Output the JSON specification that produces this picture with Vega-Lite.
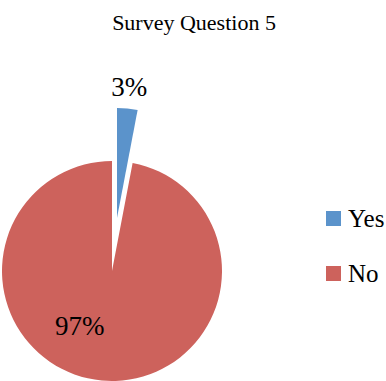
{
  "$schema": "https://vega.github.io/schema/vega-lite/v6.json",
  "width": 224,
  "height": 220,
  "autosize": "none",
  "padding": {"left": 0, "top": 161, "right": 162, "bottom": 0},
  "background": "white",
  "view": {"stroke": null},
  "title": {
    "text": "Survey Question 5",
    "font": "Liberation Serif",
    "fontSize": 22,
    "fontWeight": "normal",
    "color": "black",
    "anchor": "middle",
    "frame": "group",
    "baseline": "alphabetic",
    "dx": 82,
    "offset": 22
  },
  "data": {
    "values": [
      {"answer": "Yes", "share": 0.03},
      {"answer": "No", "share": 0.97}
    ]
  },
  "encoding": {
    "theta": {"field": "share", "type": "quantitative", "stack": true},
    "order": {"field": "answer", "sort": "descending"},
    "color": {
      "field": "answer",
      "type": "nominal",
      "scale": {"domain": ["Yes", "No"], "range": ["#5B93CB", "#CD625C"]},
      "legend": {
        "title": null,
        "orient": "none",
        "legendX": 321,
        "legendY": 45,
        "padding": 0,
        "symbolType": "square",
        "symbolSize": 225,
        "symbolStrokeWidth": 0,
        "symbolOpacity": 1,
        "labelFont": "Liberation Serif",
        "labelFontSize": 25,
        "labelColor": "black",
        "labelOffset": 2,
        "rowPadding": 29
      }
    }
  },
  "layer": [
    {
      "mark": {"type": "arc", "radius": 110},
      "encoding": {
        "opacity": {"condition": {"test": "datum.answer === 'No'", "value": 1}, "value": 0}
      }
    },
    {
      "mark": {"type": "arc", "radius": 110, "xOffset": 5, "yOffset": -53},
      "encoding": {
        "opacity": {"condition": {"test": "datum.answer === 'Yes'", "value": 1}, "value": 0}
      }
    },
    {
      "mark": {"type": "text", "radius": 184, "font": "Liberation Serif", "fontSize": 27, "color": "black"},
      "encoding": {
        "text": {"field": "share", "type": "quantitative", "format": ".0%"},
        "color": {"value": "black"},
        "opacity": {"condition": {"test": "datum.answer === 'Yes'", "value": 1}, "value": 0}
      }
    },
    {
      "mark": {"type": "text", "radius": 56, "dx": -27, "font": "Liberation Serif", "fontSize": 27, "color": "black"},
      "encoding": {
        "text": {"field": "share", "type": "quantitative", "format": ".0%"},
        "color": {"value": "black"},
        "opacity": {"condition": {"test": "datum.answer === 'No'", "value": 1}, "value": 0}
      }
    }
  ]
}
